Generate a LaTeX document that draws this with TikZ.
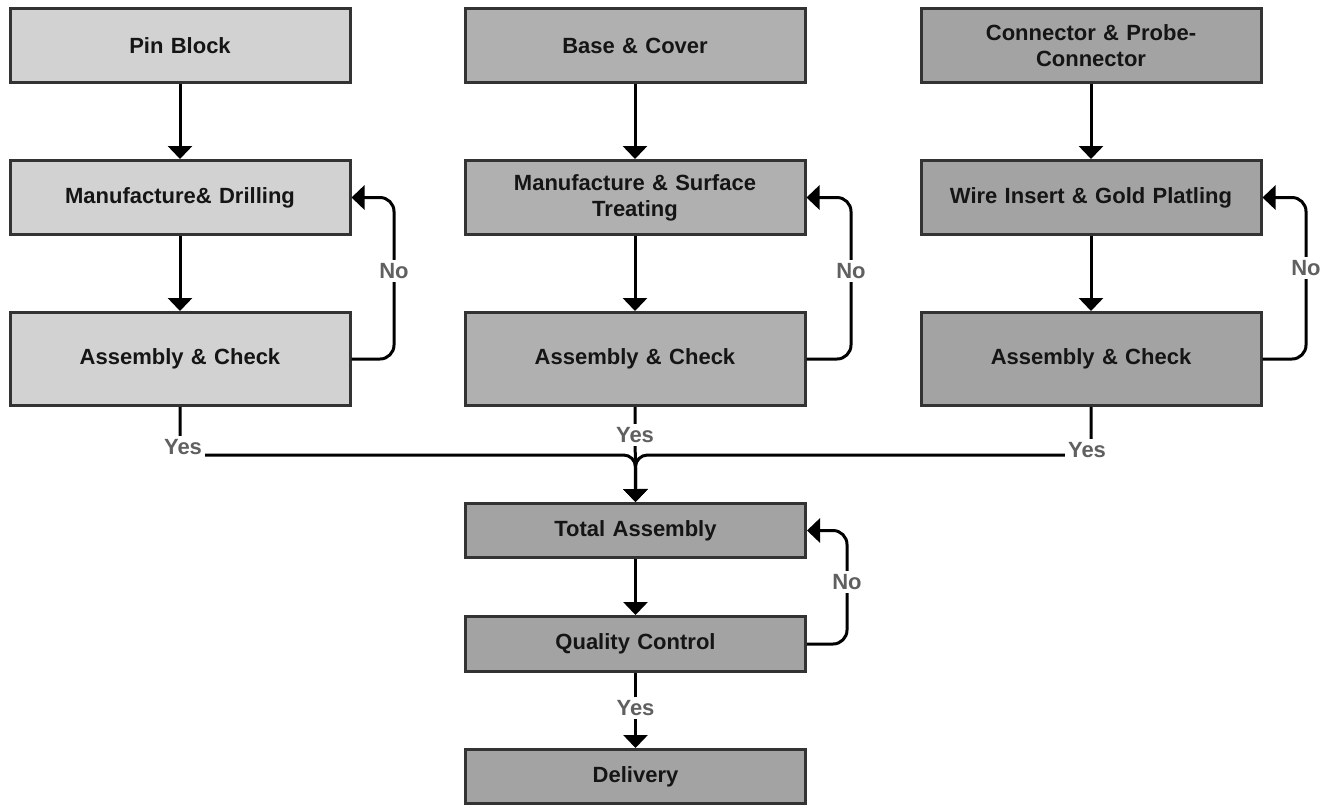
\documentclass[tikz,border=0pt]{standalone}
\usepackage{fontspec}
\setmainfont{Liberation Sans}
\usetikzlibrary{arrows.meta}
\definecolor{cA}{HTML}{D2D2D2}
\definecolor{cB}{HTML}{B0B0B0}
\definecolor{cC}{HTML}{A3A3A3}
\definecolor{bd}{HTML}{333333}
\definecolor{lg}{HTML}{606060}
\definecolor{tx}{HTML}{151515}
\begin{document}
\begin{tikzpicture}[x=1pt,y=-1pt,
  box/.style={draw=bd, line width=3pt, minimum width=340pt, text width=330pt, align=center,
    font=\fontsize{22}{26}\selectfont\bfseries, text=tx, inner sep=0pt},
  conn/.style={draw=black, line width=3pt, -{Triangle[width=24pt,length=13pt]}},
  plain/.style={draw=black, line width=3pt},
  lbl/.style={fill=white, text=lg, font=\fontsize{22}{26}\selectfont\bfseries, inner sep=3pt}]
\useasboundingbox (0,0) rectangle (1337,807);
% left column
\node[box, fill=cA, minimum height=74pt] (P1) at (180,45.5) {Pin Block};
\node[box, fill=cA, minimum height=74pt] (M1) at (180,197.5) {Manufacture\& Drilling};
\node[box, fill=cA, minimum height=93pt] (A1) at (180,359) {Assembly \& Check};
% middle column
\node[box, fill=cB, minimum height=74pt] (P2) at (635,45.5) {Base \& Cover};
\node[box, fill=cB, minimum height=74pt] (M2) at (635,197.5) {Manufacture \& Surface\\Treating};
\node[box, fill=cB, minimum height=93pt] (A2) at (635,359) {Assembly \& Check};
% right column
\node[box, fill=cC, minimum height=74pt] (P3) at (1091,45.5) {Connector \& Probe-\\Connector};
\node[box, fill=cC, minimum height=74pt] (M3) at (1091,197.5) {Wire Insert \& Gold Platling};
\node[box, fill=cC, minimum height=93pt] (A3) at (1091,359) {Assembly \& Check};
% bottom
\node[box, fill=cC, minimum height=54pt] (TA) at (635.5,530.5) {Total Assembly};
\node[box, fill=cC, minimum height=55pt] (QC) at (635.5,644) {Quality Control};
\node[box, fill=cC, minimum height=54pt] (DL) at (635.5,776.5) {Delivery};
% vertical arrows
\foreach \a/\b in {P1/M1,M1/A1,P2/M2,M2/A2,P3/M3,M3/A3,TA/QC}
  \draw[conn] (\a.south) -- (\b.north);
% loops
\draw[conn, rounded corners=14pt] (A1.east) -- (394,359) -- (394,197.5) -- (M1.east);
\draw[conn, rounded corners=14pt] (A2.east) -- (851,359) -- (851,197.5) -- (M2.east);
\draw[conn, rounded corners=14pt] (A3.east) -- (1306,359) -- (1306,197.5) -- (M3.east);
\draw[conn, rounded corners=14pt] (QC.east) -- (847,644) -- (847,530.5) -- (TA.east);
% merge
\draw[conn, rounded corners=12pt] (A1.south) |- (635.5,455) -- (TA.north);
\draw[conn, rounded corners=12pt] (A3.south) |- (635.5,455) -- (TA.north);
\draw[conn] (A2.south) -- (TA.north);
\draw[conn] (QC.south) -- (DL.north);
% labels
\node[lbl] (n1) at (394,271) {No};
\node[lbl] (n2) at (851,271) {No};
\node[lbl] (n3) at (1306,268) {No};
\node[lbl] (n4) at (847,582) {No};
\node[lbl] (y1) at (183,447) {Yes};
\node[lbl] (y2) at (635,435) {Yes};
\node[lbl] (y3) at (1087,450) {Yes};
\node[lbl] (y4) at (635.5,708) {Yes};
\end{tikzpicture}
\end{document}
